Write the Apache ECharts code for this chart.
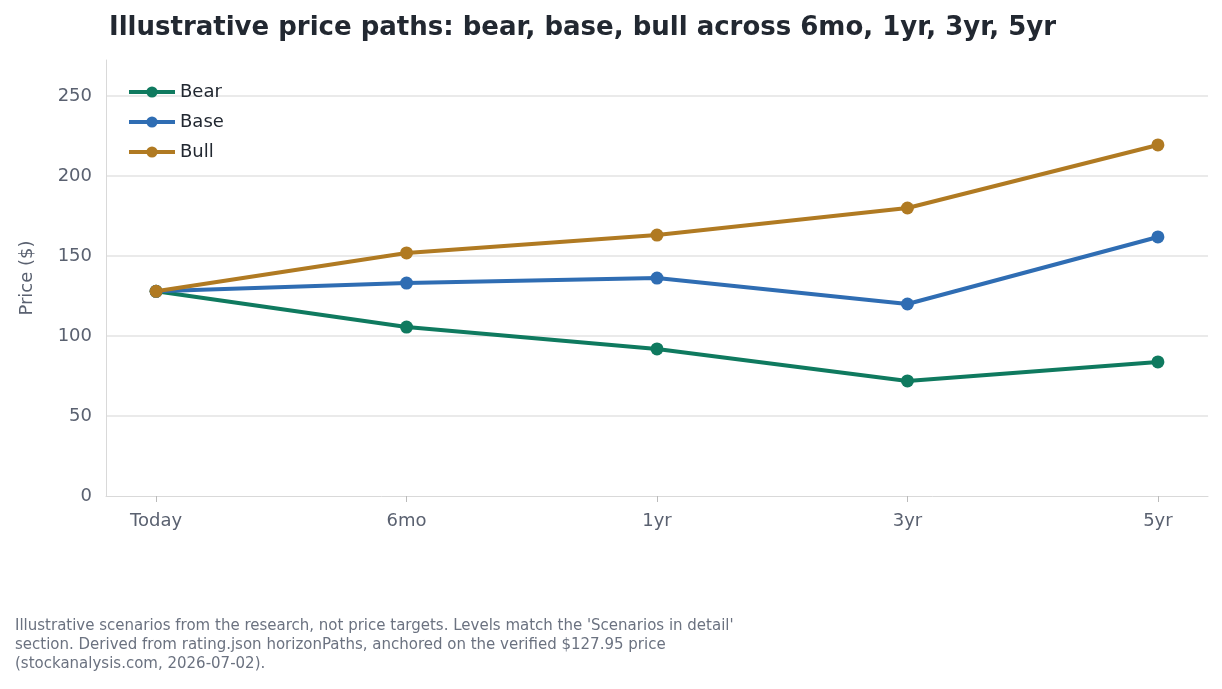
<!DOCTYPE html>
<html lang="en">
<head>
<meta charset="UTF-8">
<title>Price paths</title>
<script src="https://cdn.jsdelivr.net/npm/echarts@6.0.0/dist/echarts.min.js"></script>
<style>
  body { margin: 0; background: #fff; }
  #main { width: 1222px; height: 689px; }
</style>
</head>
<body>
<div id="main"></div>
<script>
const categories = ['Today', '6mo', '1yr', '3yr', '5yr'];
const bear = [127.95, 105.6, 91.9, 71.9, 83.8];
const base = [127.95, 133.1, 136.2, 120.0, 161.9];
const bull = [127.95, 151.9, 163.1, 180.0, 219.4];

const FONT = 'DejaVu Sans';
const colors = { Bear: '#0f7a5f', Base: '#2f6db3', Bull: '#b07a22' };
const ticks = categories.map((c, i) => i);

function line(name, values) {
  return {
    name: name,
    type: 'line',
    data: values.map((v, i) => [i, v]),
    symbol: 'circle',
    symbolSize: 13,
    lineStyle: { width: 4, color: colors[name] },
    itemStyle: { color: colors[name] },
    z: name === 'Bull' ? 3 : (name === 'Base' ? 2 : 1)
  };
}

const chart = echarts.init(document.getElementById('main'));
chart.setOption({
  animation: false,
  textStyle: { fontFamily: FONT },
  title: {
    text: 'Illustrative price paths: bear, base, bull across 6mo, 1yr, 3yr, 5yr',
    left: 104, top: 10,
    textStyle: { fontSize: 26, fontWeight: 'bold', color: '#222831', fontFamily: FONT }
  },
  legend: {
    orient: 'vertical', left: 122, top: 78, itemGap: 12,
    itemWidth: 46, itemHeight: 14,
    lineStyle: { width: 4 },
    textStyle: { fontSize: 18, color: '#222831', fontFamily: FONT },
    data: ['Bear', 'Base', 'Bull']
  },
  grid: { left: 106, right: 14, top: 60, bottom: 193, containLabel: false },
  xAxis: {
    type: 'value', min: -0.2, max: 4.2,
    axisLine: { show: true, onZero: false, lineStyle: { color: '#d9d9d9' } },
    axisTick: { show: true, customValues: ticks, length: 6, lineStyle: { color: '#bbb' } },
    axisLabel: {
      customValues: ticks, fontSize: 18, color: '#5a6170', margin: 16, fontFamily: FONT,
      formatter: v => categories[Math.round(v)]
    },
    splitLine: { show: false }
  },
  yAxis: {
    type: 'value', min: 0, max: 272.5, interval: 50,
    name: 'Price ($)', nameLocation: 'middle', nameGap: 70,
    nameTextStyle: { fontSize: 18, color: '#5a6170', fontFamily: FONT },
    axisLine: { show: true, onZero: false, lineStyle: { color: '#d9d9d9' } },
    axisTick: { show: false },
    axisLabel: { fontSize: 18, color: '#5a6170', margin: 14, showMaxLabel: false, fontFamily: FONT },
    splitLine: { showMaxLine: false, showMinLine: false, lineStyle: { color: '#e3e3e3', width: 1.5 } }
  },
  graphic: [{
    type: 'text', left: 15, top: 617,
    style: {
      text: "Illustrative scenarios from the research, not price targets. Levels match the 'Scenarios in detail'\nsection. Derived from rating.json horizonPaths, anchored on the verified $127.95 price\n(stockanalysis.com, 2026-07-02).",
      fontSize: 15, lineHeight: 19, fill: '#6b7280', fontFamily: FONT
    }
  }],
  series: [line('Bear', bear), line('Base', base), line('Bull', bull)]
});
</script>
</body>
</html>
